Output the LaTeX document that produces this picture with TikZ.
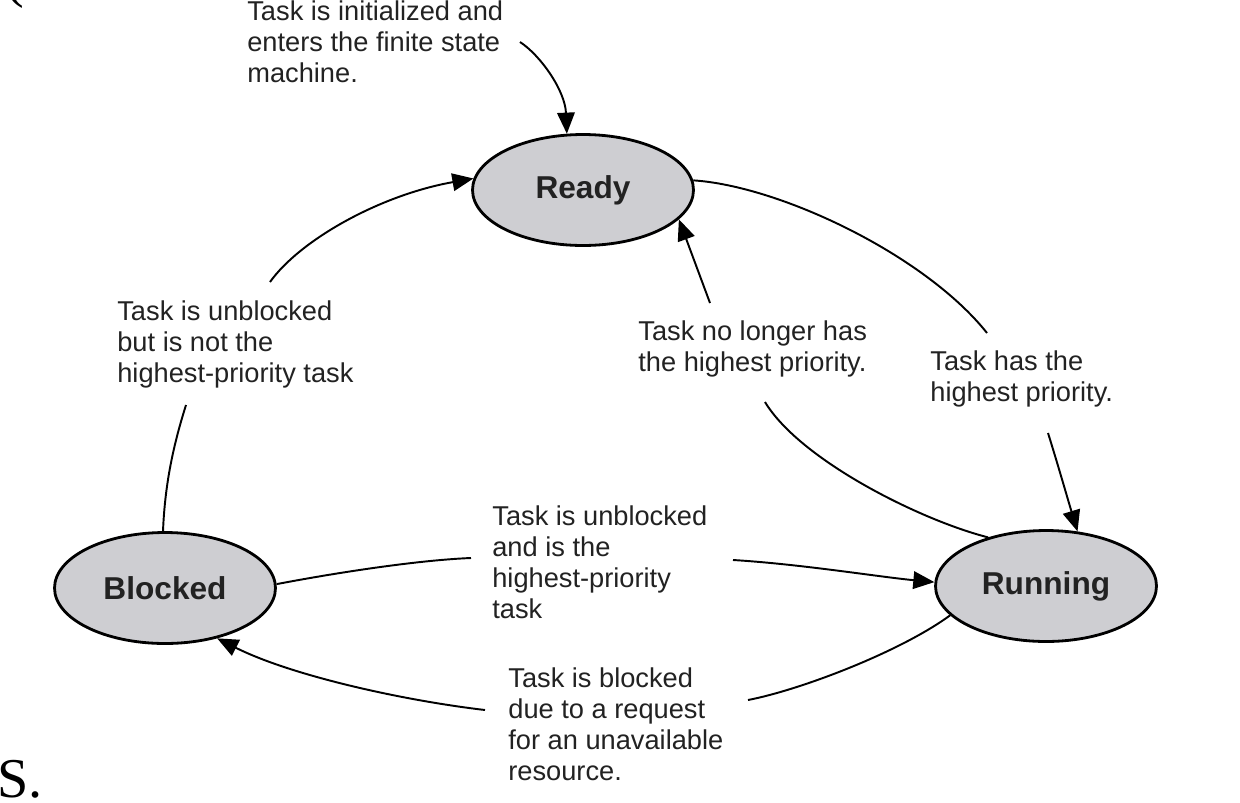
\documentclass[tikz,border=0pt]{standalone}
\usepackage{fontspec}
\setmainfont{Liberation Sans}
\newfontfamily\pageserif{Liberation Serif}
\usetikzlibrary{arrows.meta,shapes.geometric}
\definecolor{stategray}{RGB}{206,206,210}
\definecolor{inkgray}{RGB}{34,34,34}
\begin{document}
\begin{tikzpicture}[x=0.02cm,y=-0.02cm,
  state/.style={ellipse, draw=black, line width=1.6pt, fill=stategray,
    minimum width=4.42cm, minimum height=2.22cm, inner sep=0pt,
    font=\fontsize{18}{21}\selectfont\bfseries, text=inkgray},
  note/.style={anchor=north west, align=left, inner sep=0pt,
    font=\fontsize{15.5}{17.8}\selectfont, text=inkgray},
  conn/.style={line width=1.1pt, draw=black},
  arr/.style={conn, -{Triangle[length=12pt,width=10pt]}},
  pagetext/.style={anchor=base west, inner sep=0pt,
    font=\pageserif\fontsize{32}{36}\selectfont, text=black}]

\useasboundingbox (0,0) rectangle (1240,802);
\fill[white] (0,0) rectangle (1240,802);

% states
\node[state] (ready)   at (583,190)  {Ready};
\node[state] (blocked) at (165,588)  {Blocked};
\node[state] (running) at (1046,586) {Running};

% labels
\node[note] (linit) at (247,0)
  {Task is initialized and\\enters the finite state\\machine.};
\node[note] (lunb) at (117,300)
  {Task is unblocked\\but is not the\\highest-priority task};
\node[note] (lnolong) at (638,320)
  {Task no longer has\\the highest priority.};
\node[note] (lhas) at (930,350)
  {Task has the\\highest priority.};
\node[note] (lunbhi) at (492,505)
  {Task is unblocked\\and is the\\highest-priority\\task};
\node[note] (lblk) at (508,667)
  {Task is blocked\\due to a request\\for an unavailable\\resource.};

% page fragments
\node[pagetext] (paren) at (5,-4) {(};
\node[pagetext] (sdot) at (-3,797) {S.};

% free ends of connectors
\coordinate (initA) at (520,42);
\coordinate (bkA) at (186,405);
\coordinate (bkB) at (270,282);
\coordinate (rA) at (987,333);
\coordinate (rB) at (1048,433);
\coordinate (nA) at (765,402);
\coordinate (nB) at (710,303);
\coordinate (uA) at (471,558);
\coordinate (uB) at (733,560);
\coordinate (fA) at (748,700);
\coordinate (fB) at (485,710);

% initial transition
\draw[arr] (initA) .. controls (540,55) and (565,90) .. (ready.106);

% Blocked -> Ready
\draw[conn] (blocked.92) .. controls (165,480) and (175,440) .. (bkA);
\draw[arr] (bkB) .. controls (300,240) and (380,195) .. (ready.174);

% Ready -> Running
\draw[conn] (ready.5) .. controls (780,186) and (925,255) .. (rA);
\draw[arr] (rB) .. controls (1058,465) and (1068,500) .. (running.60);

% Running -> Ready
\draw[conn] (running.140) .. controls (920,520) and (800,460) .. (nA);
\draw[arr] (nB) -- (ready.-17);

% Blocked -> Running
\draw[conn] (blocked.2) .. controls (340,572) and (420,560) .. (uA);
\draw[arr] (uB) .. controls (800,564) and (880,577) .. (running.178);

% Running -> Blocked
\draw[conn] (running.197) .. controls (900,652) and (800,690) .. (fA);
\draw[arr] (fB) .. controls (400,700) and (290,675) .. (blocked.-44);
\end{tikzpicture}
\end{document}
